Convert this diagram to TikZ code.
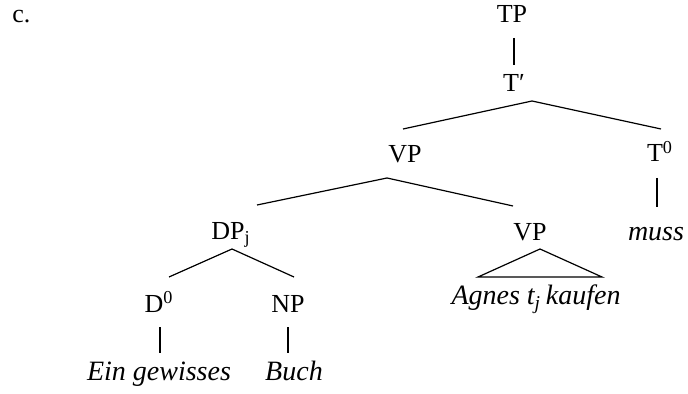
\documentclass[tikz,border=0pt]{standalone}
\usepackage{fontspec}
\setmainfont{Liberation Serif}
\usetikzlibrary{positioning}

\begin{document}
\fontsize{13}{15}\selectfont
\begin{tikzpicture}[
    x=0.5pt, y=-0.5pt,
    cat/.style={anchor=base, inner sep=0pt},
    word/.style={cat, font=\fontsize{14}{16}\selectfont\itshape},
    branch/.style={line width=0.6pt},
    stem/.style={line width=0.9pt}
]
\useasboundingbox (0,0) rectangle (688,394);

% example number
\node[cat, anchor=base west] (ex) at (12,23) {c.};

% TP and T'
\node[cat] (tp) at (512,23) {TP};
\node[cat] (tbar) at (514,92) {T′};
\coordinate (tp-foot) at (514,38);
\coordinate (tbar-head) at (514,65);
\coordinate (tbar-apex) at (532,101);

% VP and T0
\node[cat] (vp) at (405,163) {VP};
\node[cat] (tzero) at (660,162) {T\textsuperscript{0}};
\node[word] (muss) at (656,241) {muss};
\coordinate (vp-head) at (403,129);
\coordinate (tzero-head) at (661,129);
\coordinate (tzero-foot) at (657,178);
\coordinate (muss-head) at (657,207);
\coordinate (vp-apex) at (387,178);

% DP_j and lower VP
\node[cat] (dp) at (231,240) {DP\textsubscript{j}};
\node[cat] (vplow) at (530,241) {VP};
\node[word] (agnes) at (536,305) {Agnes t\textsubscript{j}\,kaufen};
\coordinate (dp-head) at (257,205);
\coordinate (vplow-head) at (513,206);
\coordinate (dp-apex) at (232,249);
\coordinate (tri-top) at (540,249);
\coordinate (tri-left) at (478,277);
\coordinate (tri-right) at (602,277);

% D0 and NP
\node[cat] (dzero) at (159,312) {D\textsuperscript{0}};
\node[cat] (np) at (288,312) {NP};
\node[word] (ein) at (159,380) {Ein gewisses};
\node[word] (buch) at (294,380) {Buch};
\coordinate (dzero-head) at (169,277);
\coordinate (np-head) at (294,277);
\coordinate (dzero-foot) at (160,327);
\coordinate (ein-head) at (160,353);
\coordinate (np-foot) at (288,327);
\coordinate (buch-head) at (288,353);

% branches
\draw[stem] (tp-foot) -- (tbar-head);
\draw[branch] (vp-head) -- (tbar-apex) -- (tzero-head);
\draw[stem] (tzero-foot) -- (muss-head);
\draw[branch] (dp-head) -- (vp-apex) -- (vplow-head);
\draw[branch] (tri-left) -- (tri-top) -- (tri-right) -- cycle;
\draw[branch] (dzero-head) -- (dp-apex) -- (np-head);
\draw[stem] (dzero-foot) -- (ein-head);
\draw[stem] (np-foot) -- (buch-head);
\end{tikzpicture}
\end{document}
